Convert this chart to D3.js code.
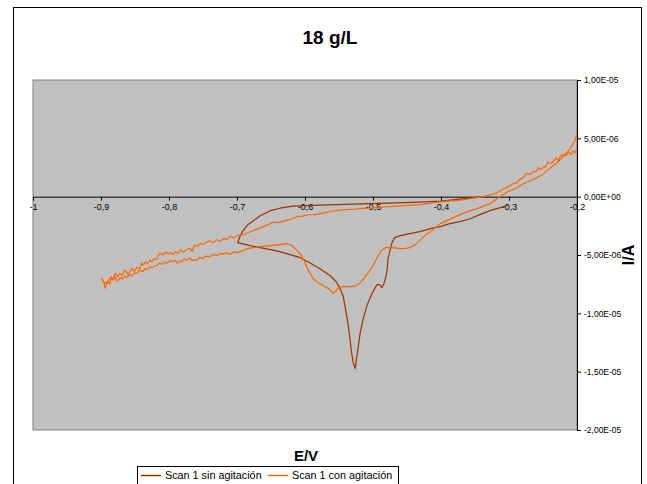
<!DOCTYPE html>
<html>
<head>
<meta charset="utf-8">
<script src="https://cdn.jsdelivr.net/npm/d3@7"></script>
<style>
  html, body { margin: 0; padding: 0; background: #fff; }
  svg { display: block; font-family: Arial, "Liberation Sans", sans-serif; }
</style>
</head>
<body>
<svg id="chart" width="647" height="484"></svg>
<script>
// ---- Data (E in V, I in µA; converted to A when drawn) ----
const title = "18 g/L";
const xLabel = "E/V";
const yLabel = "I/A";
const seriesNames = ["Scan 1 sin agitación", "Scan 1 con agitación"];
const xTicks = [-1, -0.9, -0.8, -0.7, -0.6, -0.5, -0.4, -0.3, -0.2];
const yTicks = [1e-5, 5e-6, 0, -5e-6, -1e-5, -1.5e-5, -2e-5];

// Scan 1 sin agitación (E, I µA)
const sinE = [-0.300,-0.313,-0.328,-0.343,-0.357,-0.372,-0.387,-0.401,-0.416,-0.431,-0.446,-0.460,-0.468,-0.472,-0.475,-0.478,-0.479,-0.481,-0.484,-0.487,-0.490,-0.494,-0.501,-0.509,-0.515,-0.519,-0.522,-0.525,-0.526,-0.529,-0.532,-0.534,-0.537,-0.540,-0.544,-0.549,-0.554,-0.563,-0.578,-0.593,-0.607,-0.622,-0.637,-0.651,-0.666,-0.681,-0.699,-0.696,-0.691,-0.684,-0.676,-0.666,-0.651,-0.637,-0.618,-0.600,-0.578,-0.529,-0.479,-0.431,-0.401,-0.372,-0.350,-0.337];
const sinI = [-0.69,-0.94,-1.20,-1.54,-1.89,-2.14,-2.31,-2.57,-2.74,-3.00,-3.17,-3.34,-3.51,-3.94,-4.63,-5.31,-6.17,-6.86,-7.46,-7.80,-7.54,-7.54,-8.23,-9.34,-10.63,-11.74,-13.03,-14.23,-14.74,-14.23,-13.20,-12.09,-10.80,-9.77,-8.49,-7.80,-7.29,-6.77,-6.17,-5.66,-5.23,-4.97,-4.71,-4.54,-4.37,-4.20,-3.94,-3.43,-2.91,-2.40,-2.06,-1.63,-1.20,-0.99,-0.81,-0.77,-0.73,-0.64,-0.56,-0.47,-0.39,-0.21,-0.09,0.00];

// Scan 1 con agitación (E, I µA): sweep from -0.2 down to -0.9, then back to -0.2
const conE = [-0.200,-0.203,-0.206,-0.209,-0.213,-0.216,-0.221,-0.224,-0.228,-0.231,-0.235,-0.240,-0.243,-0.246,-0.250,-0.254,-0.257,-0.260,-0.265,-0.269,-0.275,-0.279,-0.285,-0.288,-0.294,-0.301,-0.310,-0.318,-0.326,-0.337,-0.347,-0.362,-0.376,-0.391,-0.409,-0.431,-0.453,-0.475,-0.490,-0.504,-0.515,-0.526,-0.538,-0.549,-0.560,-0.571,-0.585,-0.595,-0.603,-0.612,-0.619,-0.629,-0.640,-0.647,-0.654,-0.669,-0.684,-0.691,
  -0.700,-0.705,-0.710,-0.715,-0.720,-0.725,-0.730,-0.735,-0.740,-0.744,-0.749,-0.754,-0.758,-0.762,-0.766,-0.769,-0.774,-0.779,-0.783,-0.787,-0.791,-0.794,-0.798,-0.801,-0.805,-0.809,-0.813,-0.816,-0.818,-0.822,-0.825,-0.828,-0.832,-0.835,-0.838,-0.840,-0.843,-0.847,-0.851,-0.854,-0.857,-0.860,-0.862,-0.865,-0.869,-0.872,-0.875,-0.879,-0.882,-0.885,-0.887,-0.891,-0.894,-0.896,-0.897,-0.899,
  -0.894,-0.890,-0.887,-0.885,-0.882,-0.879,-0.876,-0.874,-0.871,-0.868,-0.865,-0.862,-0.857,-0.854,-0.851,-0.847,-0.843,-0.838,-0.835,-0.832,-0.828,-0.825,-0.822,-0.818,-0.814,-0.810,-0.806,-0.803,-0.798,-0.794,-0.791,-0.788,-0.784,-0.781,-0.778,-0.774,-0.769,-0.766,-0.763,-0.759,-0.755,-0.750,-0.746,-0.740,-0.735,-0.729,-0.725,-0.721,-0.715,-0.710,-0.705,-0.700,
  -0.691,-0.685,-0.676,-0.666,-0.651,-0.637,-0.626,-0.619,-0.613,-0.607,-0.601,-0.597,-0.593,-0.588,-0.581,-0.575,-0.568,-0.563,-0.559,-0.554,-0.551,-0.546,-0.534,-0.524,-0.516,-0.509,-0.501,-0.494,-0.488,-0.482,-0.471,-0.460,-0.453,-0.446,-0.438,-0.431,-0.426,-0.416,-0.401,-0.382,-0.365,-0.343,-0.328,-0.318,-0.309,-0.299,-0.288,-0.279,-0.269,-0.259,-0.251,-0.244,-0.237,-0.229,-0.222,-0.215,-0.209,-0.204,-0.200];
const conI = [4.11,3.77,3.94,3.60,3.86,3.51,3.60,3.51,3.09,3.34,3.00,2.83,3.00,2.57,2.49,2.31,2.49,2.14,2.14,1.89,1.97,1.63,1.46,1.20,1.11,0.86,0.60,0.34,0.17,0.00,-0.09,-0.21,-0.34,-0.39,-0.51,-0.69,-0.77,-0.86,-0.90,-0.99,-1.00,-1.07,-1.10,-1.16,-1.25,-1.37,-1.54,-1.55,-1.67,-1.72,-1.89,-2.06,-2.23,-2.18,-2.40,-2.74,-3.09,-3.26,
  -3.34,-3.55,-3.40,-3.65,-3.60,-3.85,-3.70,-3.95,-3.80,-3.86,-4.10,-4.00,-4.25,-4.15,-4.70,-4.40,-4.55,-4.75,-4.55,-4.85,-4.70,-4.95,-4.80,-4.90,-4.75,-5.00,-4.85,-5.05,-5.40,-5.30,-5.60,-5.45,-5.75,-5.60,-5.90,-5.70,-6.20,-6.05,-6.40,-6.15,-6.35,-6.70,-6.50,-6.30,-6.75,-6.55,-6.85,-6.55,-7.10,-6.85,-7.00,-7.45,-7.85,-7.30,-7.15,-7.03,
  -7.46,-7.25,-7.50,-7.05,-7.15,-6.85,-7.25,-7.10,-6.95,-7.05,-6.80,-6.90,-6.70,-6.80,-6.55,-6.55,-6.30,-6.40,-6.15,-6.25,-6.00,-6.10,-5.95,-5.90,-5.70,-5.80,-5.60,-5.70,-5.50,-5.55,-5.45,-5.70,-5.50,-5.60,-5.35,-5.45,-5.25,-5.50,-5.40,-5.45,-5.20,-5.30,-5.10,-5.15,-4.95,-5.05,-4.85,-4.95,-4.80,-4.95,-4.75,-4.80,
  -4.63,-4.46,-4.37,-4.29,-4.20,-4.11,-4.03,-4.20,-4.54,-4.89,-5.49,-6.09,-6.51,-7.03,-7.37,-7.54,-7.80,-7.97,-8.31,-8.06,-7.80,-7.71,-7.71,-7.63,-7.20,-6.69,-6.00,-5.23,-4.63,-4.37,-4.37,-4.46,-4.46,-4.37,-4.11,-3.77,-3.43,-3.00,-2.31,-1.80,-1.37,-0.94,-0.60,-0.17,0.17,0.51,0.77,1.11,1.37,1.63,1.89,2.23,2.57,2.91,3.34,3.77,4.20,4.71,5.31];

const colors = ["#993300", "#FF6600"];

// ---- Layout ----
const svg = d3.select("#chart");
const plot = { left: 33, right: 577, top: 80, bottom: 430 };

const x = d3.scaleLinear().domain([-1, -0.2]).range([plot.left, plot.right]);
const y = d3.scaleLinear().domain([-2e-5, 1e-5]).range([plot.bottom, plot.top]);

// outer chart border
svg.append("rect").attr("x", 13.5).attr("y", 7.5).attr("width", 628).attr("height", 490)
  .attr("fill", "#fff").attr("stroke", "#000").attr("stroke-width", 1);

// plot area
svg.append("rect").attr("x", plot.left).attr("y", plot.top)
  .attr("width", plot.right - plot.left).attr("height", plot.bottom - plot.top)
  .attr("fill", "#C0C0C0").attr("stroke", "#808080").attr("stroke-width", 1);

// title
svg.append("text").attr("x", 330).attr("y", 44).attr("text-anchor", "middle")
  .attr("font-size", 19).attr("font-weight", "bold").text(title);

// formatters
const fmtY = v => {
  const s = v.toExponential(2);
  const [m, e] = s.split("e");
  const sign = e[0] === "-" ? "-" : "+";
  const digits = e.replace(/^[+-]/, "").padStart(2, "0");
  return m.replace(".", ",") + "E" + sign + digits;
};
const fmtX = v => String(v).replace(".", ",");

// x axis along I = 0
const xAxis = d3.axisBottom(x).tickValues(xTicks).tickFormat(fmtX).tickSize(4).tickPadding(3);
const gx = svg.append("g").attr("transform", `translate(0,${y(0)})`).call(xAxis);
gx.select(".domain").attr("stroke", "#000");
gx.selectAll("text").attr("font-size", 9).attr("fill", "#000").attr("font-family", "Arial, 'Liberation Sans', sans-serif");

// y axis at the right (E = -0.2)
const yAxis = d3.axisRight(y).tickValues(yTicks).tickFormat(fmtY).tickSize(4).tickPadding(3);
const gy = svg.append("g").attr("transform", `translate(${x(-0.2)},0)`).call(yAxis);
gy.select(".domain").attr("stroke", "#000");
gy.selectAll("text").attr("font-size", 8.5).attr("fill", "#000").attr("font-family", "Arial, 'Liberation Sans', sans-serif");

// clip
svg.append("clipPath").attr("id", "clip").append("rect")
  .attr("x", plot.left).attr("y", plot.top)
  .attr("width", plot.right - plot.left + 1).attr("height", plot.bottom - plot.top);

const line = d3.line().x(d => x(d[0])).y(d => y(d[1] * 1e-6));
const sinData = sinE.map((e, i) => [e, sinI[i]]);
const conData = conE.map((e, i) => [e, conI[i]]);

const gLines = svg.append("g").attr("clip-path", "url(#clip)");
gLines.append("path").datum(sinData).attr("d", line).attr("fill", "none")
  .attr("stroke", colors[0]).attr("stroke-width", 1.2).attr("stroke-linejoin", "round");
gLines.append("path").datum(conData).attr("d", line).attr("fill", "none")
  .attr("stroke", colors[1]).attr("stroke-width", 1.2).attr("stroke-linejoin", "round");

// axis titles
svg.append("text").attr("x", 306).attr("y", 461).attr("text-anchor", "middle")
  .attr("font-size", 15).attr("font-weight", "bold").text(xLabel);
svg.append("text").attr("transform", "translate(634,255) rotate(-90)")
  .attr("text-anchor", "middle").attr("font-size", 16).attr("font-weight", "bold").text(yLabel);

// legend
const lg = svg.append("g");
lg.append("rect").attr("x", 137.5).attr("y", 466.5).attr("width", 261).attr("height", 30)
  .attr("fill", "#fff").attr("stroke", "#000").attr("stroke-width", 1);
const legendItems = [
  { name: seriesNames[0], color: colors[0], x0: 141 },
  { name: seriesNames[1], color: colors[1], x0: 268 }
];
legendItems.forEach(it => {
  lg.append("line").attr("x1", it.x0).attr("x2", it.x0 + 20).attr("y1", 475.5).attr("y2", 475.5)
    .attr("stroke", it.color).attr("stroke-width", 1.5);
  lg.append("text").attr("x", it.x0 + 24).attr("y", 479).attr("font-size", 10.8).text(it.name);
});
</script>
</body>
</html>
